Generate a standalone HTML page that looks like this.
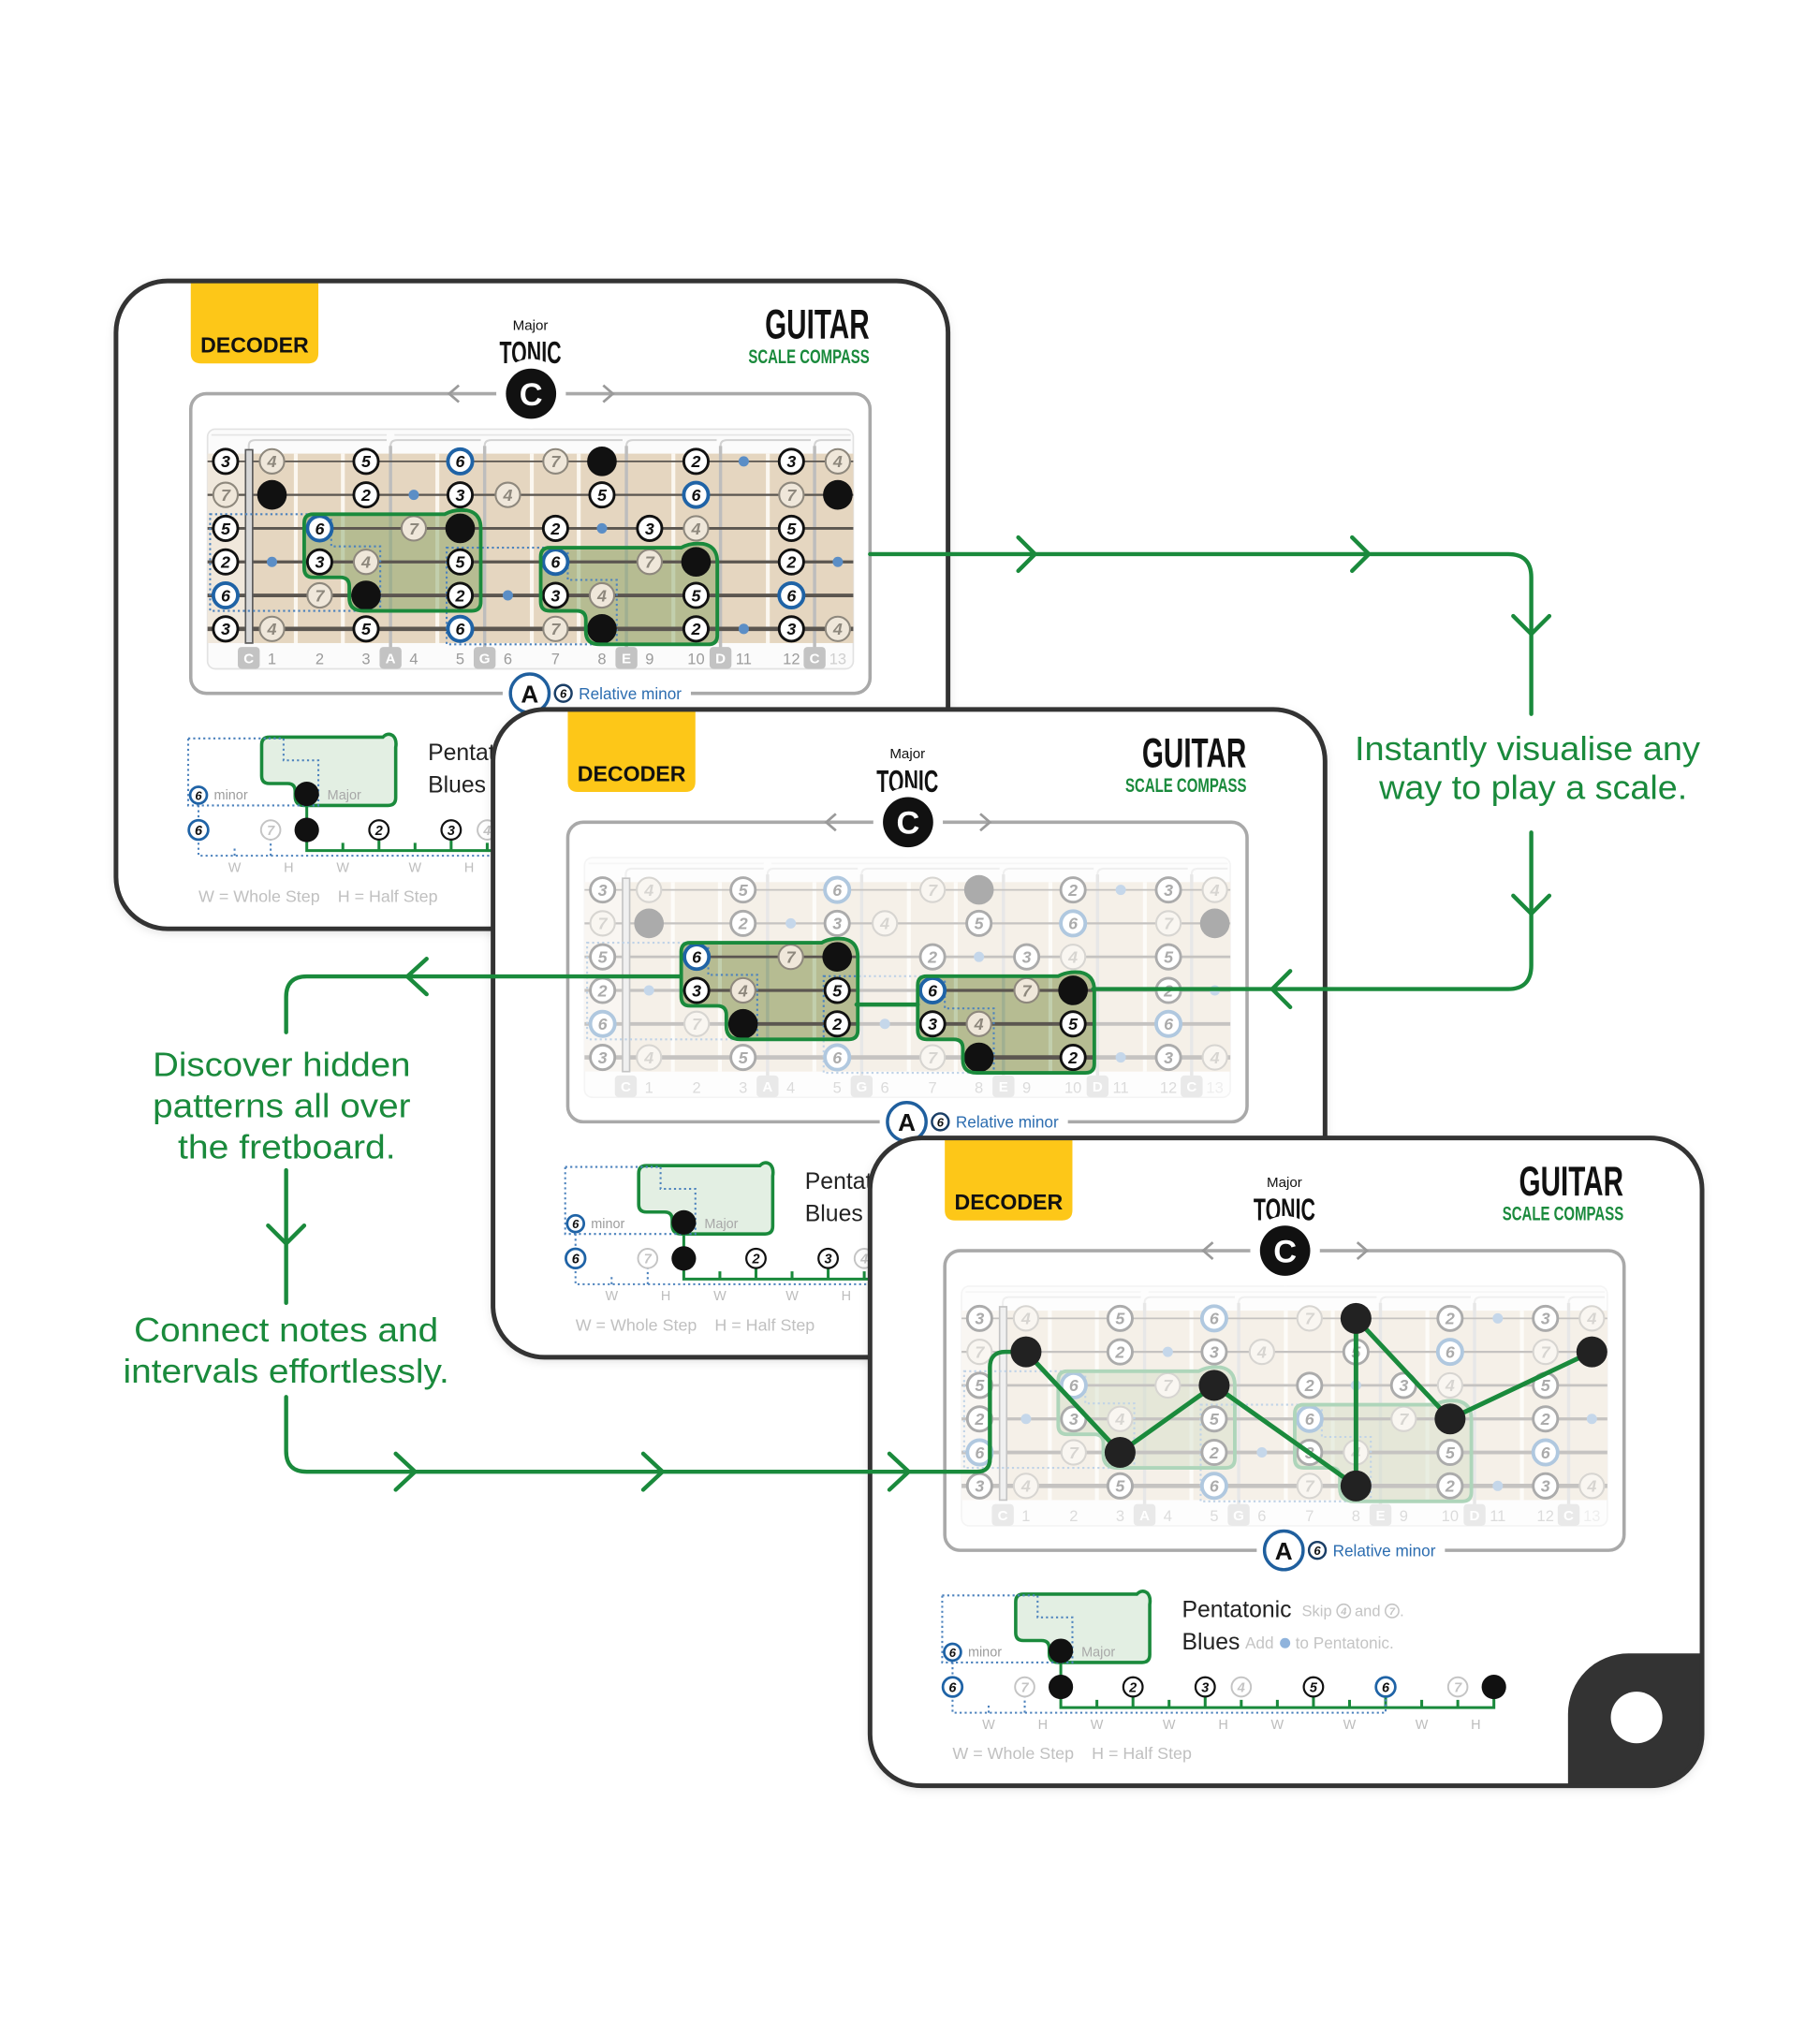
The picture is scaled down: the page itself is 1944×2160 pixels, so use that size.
<!DOCTYPE html>
<html><head><meta charset="utf-8">
<style>
html,body{margin:0;padding:0;background:#fff;overflow:hidden}
svg{display:block}
svg text{font-family:"Liberation Sans",sans-serif}
.n{fill:#fff;stroke:#111;stroke-width:2.1}
.b{fill:#fff;stroke:#1f63a6;stroke-width:2.8}
.f{fill:#efe7da;stroke:#8e887d;stroke-width:1.5}
.r{fill:#111}
.d{fill:#5b8ec6}
.t{font-style:italic;font-weight:bold;font-size:13px;fill:#111;text-anchor:middle}
.tf{font-style:italic;font-weight:bold;font-size:13px;fill:#8e887d;text-anchor:middle}
.fn{font-size:12px;fill:#9b9b9b;text-anchor:middle}
.lt{font-size:11px;font-weight:bold;fill:#fff;text-anchor:middle}
.dot{fill:none;stroke:#4c82bd;stroke-width:1.5;stroke-dasharray:1.6 2.3}
.ln{fill:#fff;stroke:#111;stroke-width:1.6}
.lb{fill:#fff;stroke:#1f63a6;stroke-width:2}
.lf{fill:#fff;stroke:#c4c4c4;stroke-width:1.4}
.ts{font-style:italic;font-weight:bold;font-size:10.5px;fill:#111;text-anchor:middle}
.tsf{font-style:italic;font-weight:bold;font-size:10.5px;fill:#c4c4c4;text-anchor:middle}
.wh{font-size:10.5px;fill:#bdbdbd;text-anchor:middle}
.g{fill:#1a8a3c}
</style></head>
<body>
<svg width="1944" height="2160" viewBox="0 0 1412 1569" preserveAspectRatio="none" xmlns="http://www.w3.org/2000/svg">
<defs>
<filter id="sh" x="-5%" y="-5%" width="110%" height="112%"><feDropShadow dx="0" dy="2" stdDeviation="4" flood-color="#000" flood-opacity="0.16"/></filter>
<clipPath id="bc"><path d="M236 406Q236 399 243 399H345Q352 395 362 396Q373 398 373 410V467Q373 474 366 474H282Q271 474 271 464V455Q271 448 264 448H243Q236 448 236 441Z"/><path transform="translate(183.5 26)" d="M236 406Q236 399 243 399H345Q352 395 362 396Q373 398 373 410V467Q373 474 366 474H282Q271 474 271 464V455Q271 448 264 448H243Q236 448 236 441Z"/></clipPath>
<clipPath id="cc"><rect x="90" y="218" width="645.5" height="502.7" rx="40"/></clipPath>
</defs>

<!-- ================= CARD 1 ================= -->
<g>
<rect x="90" y="218" width="645.5" height="502.7" rx="40" fill="#fff" filter="url(#sh)"/>
<path d="M148 219.5H247V274Q247 282 239 282H156Q148 282 148 274Z" fill="#fdc718"/>
<text x="197.5" y="273.5" font-size="17" font-weight="bold" fill="#111" text-anchor="middle" textLength="84" lengthAdjust="spacingAndGlyphs">DECODER</text>
<text x="411.5" y="256" font-size="11" fill="#111" text-anchor="middle">Major</text>
<text x="411.5" y="282" font-size="24" font-weight="bold" fill="#111" text-anchor="middle" textLength="48" lengthAdjust="spacingAndGlyphs">TONIC</text>
<text x="634" y="262.7" font-size="32" font-weight="bold" fill="#111" text-anchor="middle" textLength="81" lengthAdjust="spacingAndGlyphs">GUITAR</text>
<text x="627.6" y="282" font-size="15.5" font-weight="bold" fill="#1a8a3c" text-anchor="middle" textLength="94" lengthAdjust="spacingAndGlyphs">SCALE COMPASS</text>
<rect x="148" y="305.5" width="527" height="232.5" rx="12" fill="#fff" stroke="#a9a9a9" stroke-width="2.6"/>
<!-- fretboard -->
<rect x="161" y="333" width="501" height="186" rx="6" fill="#fbfbfb" stroke="#e2e2e2" stroke-width="1.2"/>
<path d="M164 337.5H300M306 337.5H660" stroke="#e6e6e6" stroke-width="1.2" fill="none"/>
<path d="M193 352V346Q193 341.5 198 341.5H300M303 352V346Q303 341.5 308 341.5H373M376 352V346Q376 341.5 381 341.5H483M486 352V346Q486 341.5 491 341.5H556M559 352V346Q559 341.5 564 341.5H629M632 352V346Q632 341.5 637 341.5H660" stroke="#d2d2d2" stroke-width="1.5" fill="none"/>
<rect x="161" y="352" width="32" height="147" fill="#f0e8dc"/>
<rect x="193" y="352" width="469" height="147" fill="#e5d6c0"/>
<path d="M229.5 352V499M266 352V499M339.3 352V499M412.6 352V499M449 352V499M522.4 352V499M595.7 352V499" stroke="#fbf7f0" stroke-width="3"/>
<path d="M303 346V505M376 346V505M486 346V505M559 346V505M632 346V505" stroke="#bdbdbd" stroke-width="2.5"/>
<g fill="#c3c3c3"><rect x="184.5" y="502" width="17" height="17" rx="3"/><rect x="294.5" y="502" width="17" height="17" rx="3"/><rect x="367.5" y="502" width="17" height="17" rx="3"/><rect x="477.5" y="502" width="17" height="17" rx="3"/><rect x="550.5" y="502" width="17" height="17" rx="3"/><rect x="623.5" y="502" width="17" height="17" rx="3"/></g>
<text class="lt" x="193" y="514.5">C</text><text class="lt" x="303" y="514.5">A</text><text class="lt" x="376" y="514.5">G</text><text class="lt" x="486" y="514.5">E</text><text class="lt" x="559" y="514.5">D</text><text class="lt" x="632" y="514.5">C</text>
<text class="fn" x="211" y="515.5">1</text><text class="fn" x="248" y="515.5">2</text><text class="fn" x="284" y="515.5">3</text><text class="fn" x="321" y="515.5">4</text><text class="fn" x="357" y="515.5">5</text><text class="fn" x="394" y="515.5">6</text><text class="fn" x="431" y="515.5">7</text><text class="fn" x="467" y="515.5">8</text><text class="fn" x="504" y="515.5">9</text><text class="fn" x="540" y="515.5">10</text><text class="fn" x="577" y="515.5">11</text><text class="fn" x="614" y="515.5">12</text><text class="fn" x="650" y="515.5" style="fill:#cfcfcf">13</text>
<path d="M236 406Q236 399 243 399H345Q352 395 362 396Q373 398 373 410V467Q373 474 366 474H282Q271 474 271 464V455Q271 448 264 448H243Q236 448 236 441Z" fill="#7d9e5c" fill-opacity=".45"/>
<path transform="translate(183.5 26)" d="M236 406Q236 399 243 399H345Q352 395 362 396Q373 398 373 410V467Q373 474 366 474H282Q271 474 271 464V455Q271 448 264 448H243Q236 448 236 441Z" fill="#7d9e5c" fill-opacity=".45"/>
<g stroke="#5b5650"><path d="M161 358H662" stroke-width="1.3"/><path d="M161 384H662" stroke-width="1.6"/><path d="M161 410H662" stroke-width="2"/><path d="M161 436H662" stroke-width="2.4"/><path d="M161 462H662" stroke-width="2.8"/><path d="M161 488H662" stroke-width="3.3"/></g>
<rect x="190.5" y="349" width="5.5" height="150" fill="#d6d6d6" stroke="#5a5a5a" stroke-width="1.2"/>
<path class="dot" d="M163 399H257V424H295V474H163Z"/>
<path class="dot" transform="translate(183.5 26)" d="M163 399H257V424H295V474H163Z"/>
<circle class="n" cx="175" cy="358" r="9.5"/><text class="t" x="175" y="362.6">3</text><circle class="f" cx="211" cy="358" r="9.5"/><text class="tf" x="211" y="362.6">4</text><circle class="n" cx="284" cy="358" r="9.5"/><text class="t" x="284" y="362.6">5</text><circle class="b" cx="357" cy="358" r="9.5"/><text class="t" x="357" y="362.6">6</text><circle class="f" cx="431" cy="358" r="9.5"/><text class="tf" x="431" y="362.6">7</text><circle class="r" cx="467" cy="358" r="11.5"/><circle class="n" cx="540" cy="358" r="9.5"/><text class="t" x="540" y="362.6">2</text><circle class="d" cx="577" cy="358" r="4"/><circle class="n" cx="614" cy="358" r="9.5"/><text class="t" x="614" y="362.6">3</text><circle class="f" cx="650" cy="358" r="9.5"/><text class="tf" x="650" y="362.6">4</text>
<circle class="f" cx="175" cy="384" r="9.5"/><text class="tf" x="175" y="388.6">7</text><circle class="r" cx="211" cy="384" r="11.5"/><circle class="n" cx="284" cy="384" r="9.5"/><text class="t" x="284" y="388.6">2</text><circle class="d" cx="321" cy="384" r="4"/><circle class="n" cx="357" cy="384" r="9.5"/><text class="t" x="357" y="388.6">3</text><circle class="f" cx="394" cy="384" r="9.5"/><text class="tf" x="394" y="388.6">4</text><circle class="n" cx="467" cy="384" r="9.5"/><text class="t" x="467" y="388.6">5</text><circle class="b" cx="540" cy="384" r="9.5"/><text class="t" x="540" y="388.6">6</text><circle class="f" cx="614" cy="384" r="9.5"/><text class="tf" x="614" y="388.6">7</text><circle class="r" cx="650" cy="384" r="11.5"/>
<circle class="n" cx="175" cy="410" r="9.5"/><text class="t" x="175" y="414.6">5</text><circle class="b" cx="248" cy="410" r="9.5"/><text class="t" x="248" y="414.6">6</text><circle class="f" cx="321" cy="410" r="9.5"/><text class="tf" x="321" y="414.6">7</text><circle class="r" cx="357" cy="410" r="11.5"/><circle class="n" cx="431" cy="410" r="9.5"/><text class="t" x="431" y="414.6">2</text><circle class="d" cx="467" cy="410" r="4"/><circle class="n" cx="504" cy="410" r="9.5"/><text class="t" x="504" y="414.6">3</text><circle class="f" cx="540" cy="410" r="9.5"/><text class="tf" x="540" y="414.6">4</text><circle class="n" cx="614" cy="410" r="9.5"/><text class="t" x="614" y="414.6">5</text>
<circle class="n" cx="175" cy="436" r="9.5"/><text class="t" x="175" y="440.6">2</text><circle class="d" cx="211" cy="436" r="4"/><circle class="n" cx="248" cy="436" r="9.5"/><text class="t" x="248" y="440.6">3</text><circle class="f" cx="284" cy="436" r="9.5"/><text class="tf" x="284" y="440.6">4</text><circle class="n" cx="357" cy="436" r="9.5"/><text class="t" x="357" y="440.6">5</text><circle class="b" cx="431" cy="436" r="9.5"/><text class="t" x="431" y="440.6">6</text><circle class="f" cx="504" cy="436" r="9.5"/><text class="tf" x="504" y="440.6">7</text><circle class="r" cx="540" cy="436" r="11.5"/><circle class="n" cx="614" cy="436" r="9.5"/><text class="t" x="614" y="440.6">2</text><circle class="d" cx="650" cy="436" r="4"/>
<circle class="b" cx="175" cy="462" r="9.5"/><text class="t" x="175" y="466.6">6</text><circle class="f" cx="248" cy="462" r="9.5"/><text class="tf" x="248" y="466.6">7</text><circle class="r" cx="284" cy="462" r="11.5"/><circle class="n" cx="357" cy="462" r="9.5"/><text class="t" x="357" y="466.6">2</text><circle class="d" cx="394" cy="462" r="4"/><circle class="n" cx="431" cy="462" r="9.5"/><text class="t" x="431" y="466.6">3</text><circle class="f" cx="467" cy="462" r="9.5"/><text class="tf" x="467" y="466.6">4</text><circle class="n" cx="540" cy="462" r="9.5"/><text class="t" x="540" y="466.6">5</text><circle class="b" cx="614" cy="462" r="9.5"/><text class="t" x="614" y="466.6">6</text>
<circle class="n" cx="175" cy="488" r="9.5"/><text class="t" x="175" y="492.6">3</text><circle class="f" cx="211" cy="488" r="9.5"/><text class="tf" x="211" y="492.6">4</text><circle class="n" cx="284" cy="488" r="9.5"/><text class="t" x="284" y="492.6">5</text><circle class="b" cx="357" cy="488" r="9.5"/><text class="t" x="357" y="492.6">6</text><circle class="f" cx="431" cy="488" r="9.5"/><text class="tf" x="431" y="492.6">7</text><circle class="r" cx="467" cy="488" r="11.5"/><circle class="n" cx="540" cy="488" r="9.5"/><text class="t" x="540" y="492.6">2</text><circle class="d" cx="577" cy="488" r="4"/><circle class="n" cx="614" cy="488" r="9.5"/><text class="t" x="614" y="492.6">3</text><circle class="f" cx="650" cy="488" r="9.5"/><text class="tf" x="650" y="492.6">4</text>
<path d="M236 406Q236 399 243 399H345Q352 395 362 396Q373 398 373 410V467Q373 474 366 474H282Q271 474 271 464V455Q271 448 264 448H243Q236 448 236 441Z" fill="none" stroke="#1a8a3c" stroke-width="2.8"/>
<path transform="translate(183.5 26)" d="M236 406Q236 399 243 399H345Q352 395 362 396Q373 398 373 410V467Q373 474 366 474H282Q271 474 271 464V455Q271 448 264 448H243Q236 448 236 441Z" fill="none" stroke="#1a8a3c" stroke-width="2.8"/>
<!-- header C -->
<circle cx="412" cy="305.5" r="27" fill="#fff"/>
<path d="M356 299L348.5 305.5L356 312M468 299L475.5 305.5L468 312" fill="none" stroke="#9a9a9a" stroke-width="2"/>
<circle cx="412" cy="305.5" r="19.5" fill="#111"/>
<text x="412" y="314.5" font-size="25" font-weight="bold" fill="#fff" text-anchor="middle">C</text>
<rect x="390" y="532" width="146" height="12" fill="#fff"/>
<circle cx="411" cy="538" r="15" fill="#fff" stroke="#1f5f9e" stroke-width="2.5"/>
<text x="411" y="545" font-size="19" font-weight="bold" fill="#111" text-anchor="middle">A</text>
<circle cx="437" cy="538" r="6.5" fill="#fff" stroke="#1a3e66" stroke-width="1.8"/>
<text class="ts" x="437" y="541.6" style="font-size:9.5px">6</text>
<text x="449" y="542.5" font-size="12.5" fill="#2c6db0">Relative minor</text>
<!-- legend -->
<path d="M203 578Q203 572 209 572H297Q301 568 305 571Q308 574 307 580V619Q307 625 301 625H236Q229 625 229 618V614Q229 608 223 608H209Q203 608 203 602Z" fill="#e3efe3" stroke="#1a8a3c" stroke-width="2.6"/>
<path class="dot" d="M146 573H220V590H247V625H146Z"/>
<line x1="238" y1="616" x2="238" y2="644" stroke="#1a8a3c" stroke-width="2.2"/>
<line class="dot" x1="154" y1="617" x2="154" y2="644"/>
<circle cx="238" cy="616" r="9.5" fill="#111"/>
<circle class="lb" cx="154" cy="617" r="6.5"/><text class="ts" x="154" y="620.6" style="font-size:9.5px">6</text>
<text x="166" y="620.5" font-size="10.5" fill="#9c9c9c">minor</text>
<text x="254" y="620.5" font-size="10.5" fill="#a8a8a8">Major</text>
<text x="332" y="590" font-size="18" fill="#222">Pentatonic</text>
<text x="425" y="589" font-size="12" fill="#c4c4c4">Skip</text><circle cx="457.5" cy="585" r="5.2" fill="#fff" stroke="#c4c4c4" stroke-width="1.1"/><text class="tsf" x="457.5" y="588" style="font-size:8px">4</text><text x="466" y="589" font-size="12" fill="#c4c4c4">and</text><circle cx="495" cy="585" r="5.2" fill="#fff" stroke="#c4c4c4" stroke-width="1.1"/><text class="tsf" x="495" y="588" style="font-size:8px">7</text><text x="501" y="589" font-size="12" fill="#c4c4c4">.</text>
<text x="332" y="615" font-size="18" fill="#222">Blues</text>
<text x="381" y="614" font-size="12.5" fill="#c4c4c4">Add</text><circle cx="412" cy="610" r="4" fill="#8fb3dc"/><text x="420" y="614" font-size="12.5" fill="#c4c4c4">to Pentatonic.</text>
<path d="M238 644V660H574V644M266 660V654M294 660V652M322 660V654M350 660V652M378 660V654M406 660V654M434 660V652M462 660V654M490 660V652M518 660V654M546 660V654" fill="none" stroke="#1a8a3c" stroke-width="2.2"/>
<path class="dot" d="M154 650V664H490V650M182 664V657M210 664V652"/>
<circle class="lb" cx="154" cy="644" r="7.5"/><text class="ts" x="154" y="647.8">6</text>
<circle class="lf" cx="210" cy="644" r="7.5"/><text class="tsf" x="210" y="647.8">7</text>
<circle cx="238" cy="644" r="9.5" fill="#111"/>
<circle class="ln" cx="294" cy="644" r="7.5"/><text class="ts" x="294" y="647.8">2</text>
<circle class="ln" cx="350" cy="644" r="7.5"/><text class="ts" x="350" y="647.8">3</text>
<circle class="lf" cx="378" cy="644" r="7.5"/><text class="tsf" x="378" y="647.8">4</text>
<circle class="ln" cx="434" cy="644" r="7.5"/><text class="ts" x="434" y="647.8">5</text>
<circle class="lb" cx="490" cy="644" r="7.5"/><text class="ts" x="490" y="647.8">6</text>
<circle class="lf" cx="546" cy="644" r="7.5"/><text class="tsf" x="546" y="647.8">7</text>
<circle cx="574" cy="644" r="9.5" fill="#111"/>
<text class="wh" x="182" y="676.5">W</text><text class="wh" x="224" y="676.5">H</text><text class="wh" x="266" y="676.5">W</text><text class="wh" x="322" y="676.5">W</text><text class="wh" x="364" y="676.5">H</text><text class="wh" x="406" y="676.5">W</text><text class="wh" x="462" y="676.5">W</text><text class="wh" x="518" y="676.5">W</text><text class="wh" x="560" y="676.5">H</text>
<text x="154" y="700" font-size="13" fill="#c0c0c0">W = Whole Step</text>
<text x="262" y="700" font-size="13" fill="#c0c0c0">H = Half Step</text>
<rect x="90" y="218" width="645.5" height="502.7" rx="40" fill="none" stroke="#333" stroke-width="3.6"/>
</g>

<!-- ================= CARD 2 ================= -->
<g transform="translate(292.5 332.5)">
<rect x="90" y="218" width="645.5" height="502.7" rx="40" fill="#fff" filter="url(#sh)"/>
<path d="M148 219.5H247V274Q247 282 239 282H156Q148 282 148 274Z" fill="#fdc718"/>
<text x="197.5" y="273.5" font-size="17" font-weight="bold" fill="#111" text-anchor="middle" textLength="84" lengthAdjust="spacingAndGlyphs">DECODER</text>
<text x="411.5" y="256" font-size="11" fill="#111" text-anchor="middle">Major</text>
<text x="411.5" y="282" font-size="24" font-weight="bold" fill="#111" text-anchor="middle" textLength="48" lengthAdjust="spacingAndGlyphs">TONIC</text>
<text x="634" y="262.7" font-size="32" font-weight="bold" fill="#111" text-anchor="middle" textLength="81" lengthAdjust="spacingAndGlyphs">GUITAR</text>
<text x="627.6" y="282" font-size="15.5" font-weight="bold" fill="#1a8a3c" text-anchor="middle" textLength="94" lengthAdjust="spacingAndGlyphs">SCALE COMPASS</text>
<rect x="148" y="305.5" width="527" height="232.5" rx="12" fill="#fff" stroke="#a9a9a9" stroke-width="2.6"/>
<g opacity=".35">
<rect x="161" y="333" width="501" height="186" rx="6" fill="#fbfbfb" stroke="#e2e2e2" stroke-width="1.2"/>
<path d="M164 337.5H300M306 337.5H660" stroke="#e6e6e6" stroke-width="1.2" fill="none"/>
<path d="M193 352V346Q193 341.5 198 341.5H300M303 352V346Q303 341.5 308 341.5H373M376 352V346Q376 341.5 381 341.5H483M486 352V346Q486 341.5 491 341.5H556M559 352V346Q559 341.5 564 341.5H629M632 352V346Q632 341.5 637 341.5H660" stroke="#d2d2d2" stroke-width="1.5" fill="none"/>
<rect x="161" y="352" width="32" height="147" fill="#f0e8dc"/>
<rect x="193" y="352" width="469" height="147" fill="#e5d6c0"/>
<path d="M229.5 352V499M266 352V499M339.3 352V499M412.6 352V499M449 352V499M522.4 352V499M595.7 352V499" stroke="#fbf7f0" stroke-width="3"/>
<path d="M303 346V505M376 346V505M486 346V505M559 346V505M632 346V505" stroke="#bdbdbd" stroke-width="2.5"/>
<g fill="#c3c3c3"><rect x="184.5" y="502" width="17" height="17" rx="3"/><rect x="294.5" y="502" width="17" height="17" rx="3"/><rect x="367.5" y="502" width="17" height="17" rx="3"/><rect x="477.5" y="502" width="17" height="17" rx="3"/><rect x="550.5" y="502" width="17" height="17" rx="3"/><rect x="623.5" y="502" width="17" height="17" rx="3"/></g>
<text class="lt" x="193" y="514.5">C</text><text class="lt" x="303" y="514.5">A</text><text class="lt" x="376" y="514.5">G</text><text class="lt" x="486" y="514.5">E</text><text class="lt" x="559" y="514.5">D</text><text class="lt" x="632" y="514.5">C</text>
<text class="fn" x="211" y="515.5">1</text><text class="fn" x="248" y="515.5">2</text><text class="fn" x="284" y="515.5">3</text><text class="fn" x="321" y="515.5">4</text><text class="fn" x="357" y="515.5">5</text><text class="fn" x="394" y="515.5">6</text><text class="fn" x="431" y="515.5">7</text><text class="fn" x="467" y="515.5">8</text><text class="fn" x="504" y="515.5">9</text><text class="fn" x="540" y="515.5">10</text><text class="fn" x="577" y="515.5">11</text><text class="fn" x="614" y="515.5">12</text><text class="fn" x="650" y="515.5" style="fill:#cfcfcf">13</text>
<g stroke="#5b5650"><path d="M161 358H662" stroke-width="1.3"/><path d="M161 384H662" stroke-width="1.6"/><path d="M161 410H662" stroke-width="2"/><path d="M161 436H662" stroke-width="2.4"/><path d="M161 462H662" stroke-width="2.8"/><path d="M161 488H662" stroke-width="3.3"/></g>
<rect x="190.5" y="349" width="5.5" height="150" fill="#d6d6d6" stroke="#5a5a5a" stroke-width="1.2"/>
<path class="dot" d="M163 399H257V424H295V474H163Z"/>
<path class="dot" transform="translate(183.5 26)" d="M163 399H257V424H295V474H163Z"/>
<circle class="n" cx="175" cy="358" r="9.5"/><text class="t" x="175" y="362.6">3</text><circle class="f" cx="211" cy="358" r="9.5"/><text class="tf" x="211" y="362.6">4</text><circle class="n" cx="284" cy="358" r="9.5"/><text class="t" x="284" y="362.6">5</text><circle class="b" cx="357" cy="358" r="9.5"/><text class="t" x="357" y="362.6">6</text><circle class="f" cx="431" cy="358" r="9.5"/><text class="tf" x="431" y="362.6">7</text><circle class="r" cx="467" cy="358" r="11.5"/><circle class="n" cx="540" cy="358" r="9.5"/><text class="t" x="540" y="362.6">2</text><circle class="d" cx="577" cy="358" r="4"/><circle class="n" cx="614" cy="358" r="9.5"/><text class="t" x="614" y="362.6">3</text><circle class="f" cx="650" cy="358" r="9.5"/><text class="tf" x="650" y="362.6">4</text>
<circle class="f" cx="175" cy="384" r="9.5"/><text class="tf" x="175" y="388.6">7</text><circle class="r" cx="211" cy="384" r="11.5"/><circle class="n" cx="284" cy="384" r="9.5"/><text class="t" x="284" y="388.6">2</text><circle class="d" cx="321" cy="384" r="4"/><circle class="n" cx="357" cy="384" r="9.5"/><text class="t" x="357" y="388.6">3</text><circle class="f" cx="394" cy="384" r="9.5"/><text class="tf" x="394" y="388.6">4</text><circle class="n" cx="467" cy="384" r="9.5"/><text class="t" x="467" y="388.6">5</text><circle class="b" cx="540" cy="384" r="9.5"/><text class="t" x="540" y="388.6">6</text><circle class="f" cx="614" cy="384" r="9.5"/><text class="tf" x="614" y="388.6">7</text><circle class="r" cx="650" cy="384" r="11.5"/>
<circle class="n" cx="175" cy="410" r="9.5"/><text class="t" x="175" y="414.6">5</text><circle class="n" cx="431" cy="410" r="9.5"/><text class="t" x="431" y="414.6">2</text><circle class="d" cx="467" cy="410" r="4"/><circle class="n" cx="504" cy="410" r="9.5"/><text class="t" x="504" y="414.6">3</text><circle class="f" cx="540" cy="410" r="9.5"/><text class="tf" x="540" y="414.6">4</text><circle class="n" cx="614" cy="410" r="9.5"/><text class="t" x="614" y="414.6">5</text>
<circle class="n" cx="175" cy="436" r="9.5"/><text class="t" x="175" y="440.6">2</text><circle class="d" cx="211" cy="436" r="4"/><circle class="n" cx="614" cy="436" r="9.5"/><text class="t" x="614" y="440.6">2</text><circle class="d" cx="650" cy="436" r="4"/>
<circle class="b" cx="175" cy="462" r="9.5"/><text class="t" x="175" y="466.6">6</text><circle class="f" cx="248" cy="462" r="9.5"/><text class="tf" x="248" y="466.6">7</text><circle class="d" cx="394" cy="462" r="4"/><circle class="b" cx="614" cy="462" r="9.5"/><text class="t" x="614" y="466.6">6</text>
<circle class="n" cx="175" cy="488" r="9.5"/><text class="t" x="175" y="492.6">3</text><circle class="f" cx="211" cy="488" r="9.5"/><text class="tf" x="211" y="492.6">4</text><circle class="n" cx="284" cy="488" r="9.5"/><text class="t" x="284" y="492.6">5</text><circle class="b" cx="357" cy="488" r="9.5"/><text class="t" x="357" y="492.6">6</text><circle class="f" cx="431" cy="488" r="9.5"/><text class="tf" x="431" y="492.6">7</text><circle class="n" cx="540" cy="488" r="9.5"/><text class="t" x="540" y="492.6">2</text><circle class="d" cx="577" cy="488" r="4"/><circle class="n" cx="614" cy="488" r="9.5"/><text class="t" x="614" y="492.6">3</text><circle class="f" cx="650" cy="488" r="9.5"/><text class="tf" x="650" y="492.6">4</text>
</g>
<!-- highlighted boxes -->
<g clip-path="url(#bc)">
<rect x="193" y="352" width="469" height="147" fill="#e5d6c0"/>
<path d="M229.5 352V499M266 352V499M339.3 352V499M412.6 352V499M449 352V499M522.4 352V499M595.7 352V499" stroke="#fbf7f0" stroke-width="3"/>
<path d="M303 346V505M376 346V505M486 346V505M559 346V505M632 346V505" stroke="#bdbdbd" stroke-width="2.5"/>
<rect x="150" y="380" width="520" height="130" fill="#7d9e5c" fill-opacity=".45"/>
<g stroke="#5b5650"><path d="M161 410H662" stroke-width="2"/><path d="M161 436H662" stroke-width="2.4"/><path d="M161 462H662" stroke-width="2.8"/><path d="M161 488H662" stroke-width="3.3"/></g>
<path class="dot" d="M163 399H257V424H295V474H163Z"/>
<path class="dot" transform="translate(183.5 26)" d="M163 399H257V424H295V474H163Z"/>
<circle class="b" cx="248" cy="410" r="9.5"/><text class="t" x="248" y="414.6">6</text><circle class="f" cx="321" cy="410" r="9.5"/><text class="tf" x="321" y="414.6">7</text><circle class="r" cx="357" cy="410" r="11.5"/>
<circle class="n" cx="248" cy="436" r="9.5"/><text class="t" x="248" y="440.6">3</text><circle class="f" cx="284" cy="436" r="9.5"/><text class="tf" x="284" y="440.6">4</text><circle class="n" cx="357" cy="436" r="9.5"/><text class="t" x="357" y="440.6">5</text>
<circle class="r" cx="284" cy="462" r="11.5"/><circle class="n" cx="357" cy="462" r="9.5"/><text class="t" x="357" y="466.6">2</text>
<circle class="b" cx="431" cy="436" r="9.5"/><text class="t" x="431" y="440.6">6</text><circle class="f" cx="504" cy="436" r="9.5"/><text class="tf" x="504" y="440.6">7</text><circle class="r" cx="540" cy="436" r="11.5"/>
<circle class="n" cx="431" cy="462" r="9.5"/><text class="t" x="431" y="466.6">3</text><circle class="f" cx="467" cy="462" r="9.5"/><text class="tf" x="467" y="466.6">4</text><circle class="n" cx="540" cy="462" r="9.5"/><text class="t" x="540" y="466.6">5</text>
<circle class="r" cx="467" cy="488" r="11.5"/><circle class="n" cx="540" cy="488" r="9.5"/><text class="t" x="540" y="492.6">2</text>
</g>
<path d="M236 406Q236 399 243 399H345Q352 395 362 396Q373 398 373 410V467Q373 474 366 474H282Q271 474 271 464V455Q271 448 264 448H243Q236 448 236 441Z" fill="none" stroke="#1a8a3c" stroke-width="2.8"/>
<path transform="translate(183.5 26)" d="M236 406Q236 399 243 399H345Q352 395 362 396Q373 398 373 410V467Q373 474 366 474H282Q271 474 271 464V455Q271 448 264 448H243Q236 448 236 441Z" fill="none" stroke="#1a8a3c" stroke-width="2.8"/>
<circle cx="412" cy="305.5" r="27" fill="#fff"/>
<path d="M356 299L348.5 305.5L356 312M468 299L475.5 305.5L468 312" fill="none" stroke="#9a9a9a" stroke-width="2"/>
<circle cx="412" cy="305.5" r="19.5" fill="#111"/>
<text x="412" y="314.5" font-size="25" font-weight="bold" fill="#fff" text-anchor="middle">C</text>
<rect x="390" y="532" width="146" height="12" fill="#fff"/>
<circle cx="411" cy="538" r="15" fill="#fff" stroke="#1f5f9e" stroke-width="2.5"/>
<text x="411" y="545" font-size="19" font-weight="bold" fill="#111" text-anchor="middle">A</text>
<circle cx="437" cy="538" r="6.5" fill="#fff" stroke="#1a3e66" stroke-width="1.8"/>
<text class="ts" x="437" y="541.6" style="font-size:9.5px">6</text>
<text x="449" y="542.5" font-size="12.5" fill="#2c6db0">Relative minor</text>
<path d="M203 578Q203 572 209 572H297Q301 568 305 571Q308 574 307 580V619Q307 625 301 625H236Q229 625 229 618V614Q229 608 223 608H209Q203 608 203 602Z" fill="#e3efe3" stroke="#1a8a3c" stroke-width="2.6"/>
<path class="dot" d="M146 573H220V590H247V625H146Z"/>
<line x1="238" y1="616" x2="238" y2="644" stroke="#1a8a3c" stroke-width="2.2"/>
<line class="dot" x1="154" y1="617" x2="154" y2="644"/>
<circle cx="238" cy="616" r="9.5" fill="#111"/>
<circle class="lb" cx="154" cy="617" r="6.5"/><text class="ts" x="154" y="620.6" style="font-size:9.5px">6</text>
<text x="166" y="620.5" font-size="10.5" fill="#9c9c9c">minor</text>
<text x="254" y="620.5" font-size="10.5" fill="#a8a8a8">Major</text>
<text x="332" y="590" font-size="18" fill="#222">Pentatonic</text>
<text x="425" y="589" font-size="12" fill="#c4c4c4">Skip</text>
<text x="332" y="615" font-size="18" fill="#222">Blues</text>
<text x="381" y="614" font-size="12.5" fill="#c4c4c4">Add</text>
<path d="M238 644V660H574V644M266 660V654M294 660V652M322 660V654M350 660V652M378 660V654M406 660V654M434 660V652M462 660V654M490 660V652M518 660V654M546 660V654" fill="none" stroke="#1a8a3c" stroke-width="2.2"/>
<path class="dot" d="M154 650V664H490V650M182 664V657M210 664V652"/>
<circle class="lb" cx="154" cy="644" r="7.5"/><text class="ts" x="154" y="647.8">6</text>
<circle class="lf" cx="210" cy="644" r="7.5"/><text class="tsf" x="210" y="647.8">7</text>
<circle cx="238" cy="644" r="9.5" fill="#111"/>
<circle class="ln" cx="294" cy="644" r="7.5"/><text class="ts" x="294" y="647.8">2</text>
<circle class="ln" cx="350" cy="644" r="7.5"/><text class="ts" x="350" y="647.8">3</text>
<circle class="lf" cx="378" cy="644" r="7.5"/><text class="tsf" x="378" y="647.8">4</text>
<text class="wh" x="182" y="676.5">W</text><text class="wh" x="224" y="676.5">H</text><text class="wh" x="266" y="676.5">W</text><text class="wh" x="322" y="676.5">W</text><text class="wh" x="364" y="676.5">H</text>
<text x="154" y="700" font-size="13" fill="#c0c0c0">W = Whole Step</text>
<text x="262" y="700" font-size="13" fill="#c0c0c0">H = Half Step</text>
<rect x="90" y="218" width="645.5" height="502.7" rx="40" fill="none" stroke="#333" stroke-width="3.6"/>
</g>

<!-- ================= CARD 3 ================= -->
<g transform="translate(585 665)">
<rect x="90" y="218" width="645.5" height="502.7" rx="40" fill="#fff" filter="url(#sh)"/>
<path clip-path="url(#cc)" d="M631.5 740V665A47 47 0 0 1 678.5 618H750V740Z" fill="#333"/>
<circle cx="684.7" cy="667.7" r="20" fill="#fff"/>
<path d="M148 219.5H247V274Q247 282 239 282H156Q148 282 148 274Z" fill="#fdc718"/>
<text x="197.5" y="273.5" font-size="17" font-weight="bold" fill="#111" text-anchor="middle" textLength="84" lengthAdjust="spacingAndGlyphs">DECODER</text>
<text x="411.5" y="256" font-size="11" fill="#111" text-anchor="middle">Major</text>
<text x="411.5" y="282" font-size="24" font-weight="bold" fill="#111" text-anchor="middle" textLength="48" lengthAdjust="spacingAndGlyphs">TONIC</text>
<text x="634" y="262.7" font-size="32" font-weight="bold" fill="#111" text-anchor="middle" textLength="81" lengthAdjust="spacingAndGlyphs">GUITAR</text>
<text x="627.6" y="282" font-size="15.5" font-weight="bold" fill="#1a8a3c" text-anchor="middle" textLength="94" lengthAdjust="spacingAndGlyphs">SCALE COMPASS</text>
<rect x="148" y="305.5" width="527" height="232.5" rx="12" fill="#fff" stroke="#a9a9a9" stroke-width="2.6"/>
<g opacity=".35">
<rect x="161" y="333" width="501" height="186" rx="6" fill="#fbfbfb" stroke="#e2e2e2" stroke-width="1.2"/>
<path d="M164 337.5H300M306 337.5H660" stroke="#e6e6e6" stroke-width="1.2" fill="none"/>
<path d="M193 352V346Q193 341.5 198 341.5H300M303 352V346Q303 341.5 308 341.5H373M376 352V346Q376 341.5 381 341.5H483M486 352V346Q486 341.5 491 341.5H556M559 352V346Q559 341.5 564 341.5H629M632 352V346Q632 341.5 637 341.5H660" stroke="#d2d2d2" stroke-width="1.5" fill="none"/>
<rect x="161" y="352" width="32" height="147" fill="#f0e8dc"/>
<rect x="193" y="352" width="469" height="147" fill="#e5d6c0"/>
<path d="M229.5 352V499M266 352V499M339.3 352V499M412.6 352V499M449 352V499M522.4 352V499M595.7 352V499" stroke="#fbf7f0" stroke-width="3"/>
<path d="M303 346V505M376 346V505M486 346V505M559 346V505M632 346V505" stroke="#bdbdbd" stroke-width="2.5"/>
<g fill="#c3c3c3"><rect x="184.5" y="502" width="17" height="17" rx="3"/><rect x="294.5" y="502" width="17" height="17" rx="3"/><rect x="367.5" y="502" width="17" height="17" rx="3"/><rect x="477.5" y="502" width="17" height="17" rx="3"/><rect x="550.5" y="502" width="17" height="17" rx="3"/><rect x="623.5" y="502" width="17" height="17" rx="3"/></g>
<text class="lt" x="193" y="514.5">C</text><text class="lt" x="303" y="514.5">A</text><text class="lt" x="376" y="514.5">G</text><text class="lt" x="486" y="514.5">E</text><text class="lt" x="559" y="514.5">D</text><text class="lt" x="632" y="514.5">C</text>
<text class="fn" x="211" y="515.5">1</text><text class="fn" x="248" y="515.5">2</text><text class="fn" x="284" y="515.5">3</text><text class="fn" x="321" y="515.5">4</text><text class="fn" x="357" y="515.5">5</text><text class="fn" x="394" y="515.5">6</text><text class="fn" x="431" y="515.5">7</text><text class="fn" x="467" y="515.5">8</text><text class="fn" x="504" y="515.5">9</text><text class="fn" x="540" y="515.5">10</text><text class="fn" x="577" y="515.5">11</text><text class="fn" x="614" y="515.5">12</text><text class="fn" x="650" y="515.5" style="fill:#cfcfcf">13</text>
<path d="M236 406Q236 399 243 399H345Q352 395 362 396Q373 398 373 410V467Q373 474 366 474H282Q271 474 271 464V455Q271 448 264 448H243Q236 448 236 441Z" fill="#7d9e5c" fill-opacity=".45"/>
<path transform="translate(183.5 26)" d="M236 406Q236 399 243 399H345Q352 395 362 396Q373 398 373 410V467Q373 474 366 474H282Q271 474 271 464V455Q271 448 264 448H243Q236 448 236 441Z" fill="#7d9e5c" fill-opacity=".45"/>
<g stroke="#5b5650"><path d="M161 358H662" stroke-width="1.3"/><path d="M161 384H662" stroke-width="1.6"/><path d="M161 410H662" stroke-width="2"/><path d="M161 436H662" stroke-width="2.4"/><path d="M161 462H662" stroke-width="2.8"/><path d="M161 488H662" stroke-width="3.3"/></g>
<rect x="190.5" y="349" width="5.5" height="150" fill="#d6d6d6" stroke="#5a5a5a" stroke-width="1.2"/>
<path class="dot" d="M163 399H257V424H295V474H163Z"/>
<path class="dot" transform="translate(183.5 26)" d="M163 399H257V424H295V474H163Z"/>
<circle class="n" cx="175" cy="358" r="9.5"/><text class="t" x="175" y="362.6">3</text><circle class="f" cx="211" cy="358" r="9.5"/><text class="tf" x="211" y="362.6">4</text><circle class="n" cx="284" cy="358" r="9.5"/><text class="t" x="284" y="362.6">5</text><circle class="b" cx="357" cy="358" r="9.5"/><text class="t" x="357" y="362.6">6</text><circle class="f" cx="431" cy="358" r="9.5"/><text class="tf" x="431" y="362.6">7</text><circle class="n" cx="540" cy="358" r="9.5"/><text class="t" x="540" y="362.6">2</text><circle class="d" cx="577" cy="358" r="4"/><circle class="n" cx="614" cy="358" r="9.5"/><text class="t" x="614" y="362.6">3</text><circle class="f" cx="650" cy="358" r="9.5"/><text class="tf" x="650" y="362.6">4</text>
<circle class="f" cx="175" cy="384" r="9.5"/><text class="tf" x="175" y="388.6">7</text><circle class="n" cx="284" cy="384" r="9.5"/><text class="t" x="284" y="388.6">2</text><circle class="d" cx="321" cy="384" r="4"/><circle class="n" cx="357" cy="384" r="9.5"/><text class="t" x="357" y="388.6">3</text><circle class="f" cx="394" cy="384" r="9.5"/><text class="tf" x="394" y="388.6">4</text><circle class="n" cx="467" cy="384" r="9.5"/><text class="t" x="467" y="388.6">5</text><circle class="b" cx="540" cy="384" r="9.5"/><text class="t" x="540" y="388.6">6</text><circle class="f" cx="614" cy="384" r="9.5"/><text class="tf" x="614" y="388.6">7</text>
<circle class="n" cx="175" cy="410" r="9.5"/><text class="t" x="175" y="414.6">5</text><circle class="b" cx="248" cy="410" r="9.5"/><text class="t" x="248" y="414.6">6</text><circle class="f" cx="321" cy="410" r="9.5"/><text class="tf" x="321" y="414.6">7</text><circle class="n" cx="431" cy="410" r="9.5"/><text class="t" x="431" y="414.6">2</text><circle class="d" cx="467" cy="410" r="4"/><circle class="n" cx="504" cy="410" r="9.5"/><text class="t" x="504" y="414.6">3</text><circle class="f" cx="540" cy="410" r="9.5"/><text class="tf" x="540" y="414.6">4</text><circle class="n" cx="614" cy="410" r="9.5"/><text class="t" x="614" y="414.6">5</text>
<circle class="n" cx="175" cy="436" r="9.5"/><text class="t" x="175" y="440.6">2</text><circle class="d" cx="211" cy="436" r="4"/><circle class="n" cx="248" cy="436" r="9.5"/><text class="t" x="248" y="440.6">3</text><circle class="f" cx="284" cy="436" r="9.5"/><text class="tf" x="284" y="440.6">4</text><circle class="n" cx="357" cy="436" r="9.5"/><text class="t" x="357" y="440.6">5</text><circle class="b" cx="431" cy="436" r="9.5"/><text class="t" x="431" y="440.6">6</text><circle class="f" cx="504" cy="436" r="9.5"/><text class="tf" x="504" y="440.6">7</text><circle class="n" cx="614" cy="436" r="9.5"/><text class="t" x="614" y="440.6">2</text><circle class="d" cx="650" cy="436" r="4"/>
<circle class="b" cx="175" cy="462" r="9.5"/><text class="t" x="175" y="466.6">6</text><circle class="f" cx="248" cy="462" r="9.5"/><text class="tf" x="248" y="466.6">7</text><circle class="n" cx="357" cy="462" r="9.5"/><text class="t" x="357" y="466.6">2</text><circle class="d" cx="394" cy="462" r="4"/><circle class="n" cx="431" cy="462" r="9.5"/><text class="t" x="431" y="466.6">3</text><circle class="f" cx="467" cy="462" r="9.5"/><text class="tf" x="467" y="466.6">4</text><circle class="n" cx="540" cy="462" r="9.5"/><text class="t" x="540" y="466.6">5</text><circle class="b" cx="614" cy="462" r="9.5"/><text class="t" x="614" y="466.6">6</text>
<circle class="n" cx="175" cy="488" r="9.5"/><text class="t" x="175" y="492.6">3</text><circle class="f" cx="211" cy="488" r="9.5"/><text class="tf" x="211" y="492.6">4</text><circle class="n" cx="284" cy="488" r="9.5"/><text class="t" x="284" y="492.6">5</text><circle class="b" cx="357" cy="488" r="9.5"/><text class="t" x="357" y="492.6">6</text><circle class="f" cx="431" cy="488" r="9.5"/><text class="tf" x="431" y="492.6">7</text><circle class="n" cx="540" cy="488" r="9.5"/><text class="t" x="540" y="492.6">2</text><circle class="d" cx="577" cy="488" r="4"/><circle class="n" cx="614" cy="488" r="9.5"/><text class="t" x="614" y="492.6">3</text><circle class="f" cx="650" cy="488" r="9.5"/><text class="tf" x="650" y="492.6">4</text>
<path d="M236 406Q236 399 243 399H345Q352 395 362 396Q373 398 373 410V467Q373 474 366 474H282Q271 474 271 464V455Q271 448 264 448H243Q236 448 236 441Z" fill="none" stroke="#1a8a3c" stroke-width="2.8"/>
<path transform="translate(183.5 26)" d="M236 406Q236 399 243 399H345Q352 395 362 396Q373 398 373 410V467Q373 474 366 474H282Q271 474 271 464V455Q271 448 264 448H243Q236 448 236 441Z" fill="none" stroke="#1a8a3c" stroke-width="2.8"/>
</g>
<circle cx="412" cy="305.5" r="27" fill="#fff"/>
<path d="M356 299L348.5 305.5L356 312M468 299L475.5 305.5L468 312" fill="none" stroke="#9a9a9a" stroke-width="2"/>
<circle cx="412" cy="305.5" r="19.5" fill="#111"/>
<text x="412" y="314.5" font-size="25" font-weight="bold" fill="#fff" text-anchor="middle">C</text>
<rect x="390" y="532" width="146" height="12" fill="#fff"/>
<circle cx="411" cy="538" r="15" fill="#fff" stroke="#1f5f9e" stroke-width="2.5"/>
<text x="411" y="545" font-size="19" font-weight="bold" fill="#111" text-anchor="middle">A</text>
<circle cx="437" cy="538" r="6.5" fill="#fff" stroke="#1a3e66" stroke-width="1.8"/>
<text class="ts" x="437" y="541.6" style="font-size:9.5px">6</text>
<text x="449" y="542.5" font-size="12.5" fill="#2c6db0">Relative minor</text>
<path d="M203 578Q203 572 209 572H297Q301 568 305 571Q308 574 307 580V619Q307 625 301 625H236Q229 625 229 618V614Q229 608 223 608H209Q203 608 203 602Z" fill="#e3efe3" stroke="#1a8a3c" stroke-width="2.6"/>
<path class="dot" d="M146 573H220V590H247V625H146Z"/>
<line x1="238" y1="616" x2="238" y2="644" stroke="#1a8a3c" stroke-width="2.2"/>
<line class="dot" x1="154" y1="617" x2="154" y2="644"/>
<circle cx="238" cy="616" r="9.5" fill="#111"/>
<circle class="lb" cx="154" cy="617" r="6.5"/><text class="ts" x="154" y="620.6" style="font-size:9.5px">6</text>
<text x="166" y="620.5" font-size="10.5" fill="#9c9c9c">minor</text>
<text x="254" y="620.5" font-size="10.5" fill="#a8a8a8">Major</text>
<text x="332" y="590" font-size="18" fill="#222">Pentatonic</text>
<text x="425" y="589" font-size="12" fill="#c4c4c4">Skip</text><circle cx="457.5" cy="585" r="5.2" fill="#fff" stroke="#c4c4c4" stroke-width="1.1"/><text class="tsf" x="457.5" y="588" style="font-size:8px">4</text><text x="466" y="589" font-size="12" fill="#c4c4c4">and</text><circle cx="495" cy="585" r="5.2" fill="#fff" stroke="#c4c4c4" stroke-width="1.1"/><text class="tsf" x="495" y="588" style="font-size:8px">7</text><text x="501" y="589" font-size="12" fill="#c4c4c4">.</text>
<text x="332" y="615" font-size="18" fill="#222">Blues</text>
<text x="381" y="614" font-size="12.5" fill="#c4c4c4">Add</text><circle cx="412" cy="610" r="4" fill="#8fb3dc"/><text x="420" y="614" font-size="12.5" fill="#c4c4c4">to Pentatonic.</text>
<path d="M238 644V660H574V644M266 660V654M294 660V652M322 660V654M350 660V652M378 660V654M406 660V654M434 660V652M462 660V654M490 660V652M518 660V654M546 660V654" fill="none" stroke="#1a8a3c" stroke-width="2.2"/>
<path class="dot" d="M154 650V664H490V650M182 664V657M210 664V652"/>
<circle class="lb" cx="154" cy="644" r="7.5"/><text class="ts" x="154" y="647.8">6</text>
<circle class="lf" cx="210" cy="644" r="7.5"/><text class="tsf" x="210" y="647.8">7</text>
<circle cx="238" cy="644" r="9.5" fill="#111"/>
<circle class="ln" cx="294" cy="644" r="7.5"/><text class="ts" x="294" y="647.8">2</text>
<circle class="ln" cx="350" cy="644" r="7.5"/><text class="ts" x="350" y="647.8">3</text>
<circle class="lf" cx="378" cy="644" r="7.5"/><text class="tsf" x="378" y="647.8">4</text>
<circle class="ln" cx="434" cy="644" r="7.5"/><text class="ts" x="434" y="647.8">5</text>
<circle class="lb" cx="490" cy="644" r="7.5"/><text class="ts" x="490" y="647.8">6</text>
<circle class="lf" cx="546" cy="644" r="7.5"/><text class="tsf" x="546" y="647.8">7</text>
<circle cx="574" cy="644" r="9.5" fill="#111"/>
<text class="wh" x="182" y="676.5">W</text><text class="wh" x="224" y="676.5">H</text><text class="wh" x="266" y="676.5">W</text><text class="wh" x="322" y="676.5">W</text><text class="wh" x="364" y="676.5">H</text><text class="wh" x="406" y="676.5">W</text><text class="wh" x="462" y="676.5">W</text><text class="wh" x="518" y="676.5">W</text><text class="wh" x="560" y="676.5">H</text>
<text x="154" y="700" font-size="13" fill="#c0c0c0">W = Whole Step</text>
<text x="262" y="700" font-size="13" fill="#c0c0c0">H = Half Step</text>
<rect x="90" y="218" width="645.5" height="502.7" rx="40" fill="none" stroke="#333" stroke-width="3.6"/>
</g>

<!-- ================= CONNECTORS ================= -->
<g fill="none" stroke="#1a8a3c" stroke-width="3.2" stroke-linecap="round" stroke-linejoin="round">
<path d="M675 430H1170Q1188 430 1188 448V554"/>
<path d="M790 417L803 430L790 443M1049 417L1062 430L1049 443M1174 478L1188 492L1202 478"/>
<path d="M1188 646V749Q1188 767.5 1170 767.5H848"/>
<path d="M1001 753.5L987 767.5L1001 781.5M1174 695L1188 709L1202 695"/>
<path d="M664.5 779.5H712"/>
<path d="M528 757.7H238Q222 757.7 222 773.7V801"/>
<path d="M331 744L316 757.7L331 771.5"/>
<path d="M222 908V1011M208 951L222 965L236 951"/>
<path d="M222 1084V1126Q222 1142 238 1142H758Q768 1142 768 1132V1061Q768 1049 780 1049H796"/>
<path d="M307 1128L322 1142L307 1156M499 1128L514 1142L499 1156M690 1128L705 1142L690 1156"/>
<path d="M796 1049L869 1127L942 1075L1052 1153L1052 1023L1125 1101L1235 1049" stroke-width="3.6"/>
</g>
<g fill="#222">
<circle cx="796" cy="1049" r="12"/><circle cx="869" cy="1127" r="12"/><circle cx="942" cy="1075" r="12"/><circle cx="1052" cy="1153" r="12"/><circle cx="1052" cy="1023" r="12"/><circle cx="1125" cy="1101" r="12"/><circle cx="1235" cy="1049" r="12"/>
</g>
<g font-size="26" class="g" text-anchor="middle">
<text x="1185" y="590" textLength="268" lengthAdjust="spacingAndGlyphs">Instantly visualise any</text>
<text x="1189.5" y="620" textLength="239" lengthAdjust="spacingAndGlyphs">way to play a scale.</text>
<text x="218.5" y="835" textLength="200" lengthAdjust="spacingAndGlyphs">Discover hidden</text>
<text x="218.5" y="867" textLength="200" lengthAdjust="spacingAndGlyphs">patterns all over</text>
<text x="222.5" y="899" textLength="169" lengthAdjust="spacingAndGlyphs">the fretboard.</text>
<text x="222" y="1041" textLength="236" lengthAdjust="spacingAndGlyphs">Connect notes and</text>
<text x="222" y="1073" textLength="253" lengthAdjust="spacingAndGlyphs">intervals effortlessly.</text>
</g>
</svg>
</body></html>
